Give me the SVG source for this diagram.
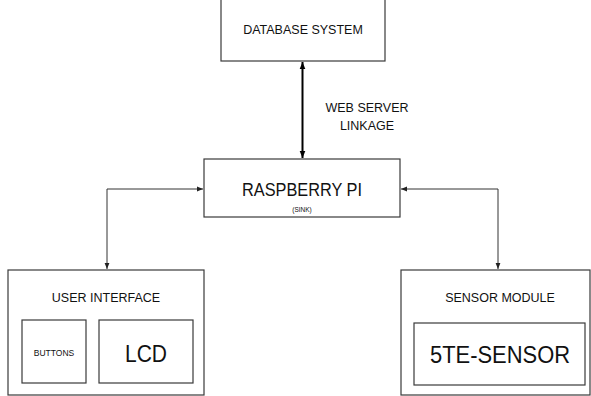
<svg xmlns="http://www.w3.org/2000/svg" width="591" height="396" viewBox="0 0 591 396">
<style>
.box{fill:#fff;stroke:#3a3a3a;stroke-width:1.2}
.t{font-family:"Liberation Sans",Arial,sans-serif;fill:#111;text-anchor:middle}
.c{fill:none;stroke:#333;stroke-width:1}
.cb{fill:none;stroke:#000;stroke-width:2}
</style>
<defs>
<marker id="ah" viewBox="0 0 10 10" refX="10" refY="5" markerWidth="6" markerHeight="6" orient="auto-start-reverse" markerUnits="userSpaceOnUse"><path d="M0,1 L10,5 L0,9 z" fill="#222"/></marker>
<marker id="ahb" viewBox="0 0 10 10" refX="10" refY="5" markerWidth="7" markerHeight="7" orient="auto-start-reverse" markerUnits="userSpaceOnUse"><path d="M0,1 L10,5 L0,9 z" fill="#000"/></marker>
</defs>
<rect width="591" height="396" fill="#fff"/>
<g id="connectors">
<line class="cb" x1="302.5" y1="62" x2="302.5" y2="158" marker-start="url(#ahb)" marker-end="url(#ahb)"/>
<polyline class="c" points="203,189 107,189 107,269" marker-start="url(#ah)" marker-end="url(#ah)"/>
<polyline class="c" points="401,189 498,189 498,269" marker-start="url(#ah)" marker-end="url(#ah)"/>
<g id="label-web"><text class="t" x="367" y="112" font-size="12.5">WEB SERVER</text><text class="t" x="367" y="130" font-size="12.5">LINKAGE</text></g>
</g>
<g id="database">
<rect class="box" x="221" y="-2" width="164" height="63"/>
<text class="t" x="303" y="34" font-size="12.5">DATABASE SYSTEM</text>
</g>
<g id="raspberry">
<rect class="box" x="204" y="159" width="196" height="58"/>
<text class="t" x="302" y="196" font-size="18" textLength="120" lengthAdjust="spacingAndGlyphs">RASPBERRY PI</text>
<text class="t" x="302" y="212" font-size="6.5" fill="#444">(SINK)</text>
</g>
<g id="user-interface">
<rect class="box" x="8" y="270" width="196" height="125"/>
<text class="t" x="106" y="302" font-size="12.5">USER INTERFACE</text>
<g id="buttons"><rect class="box" x="22" y="320" width="64" height="63"/><text class="t" x="54" y="356" font-size="8.5">BUTTONS</text></g>
<g id="lcd"><rect class="box" x="99" y="320" width="94" height="63"/><text class="t" x="146" y="362" font-size="24" textLength="42" lengthAdjust="spacingAndGlyphs">LCD</text></g>
</g>
<g id="sensor-module">
<rect class="box" x="401" y="270" width="189" height="125"/>
<text class="t" x="500" y="302" font-size="12.5">SENSOR MODULE</text>
<g id="5te-sensor"><rect class="box" x="414" y="323" width="171" height="62"/><text class="t" x="500" y="363" font-size="24" textLength="140" lengthAdjust="spacingAndGlyphs">5TE-SENSOR</text></g>
</g>
</svg>
